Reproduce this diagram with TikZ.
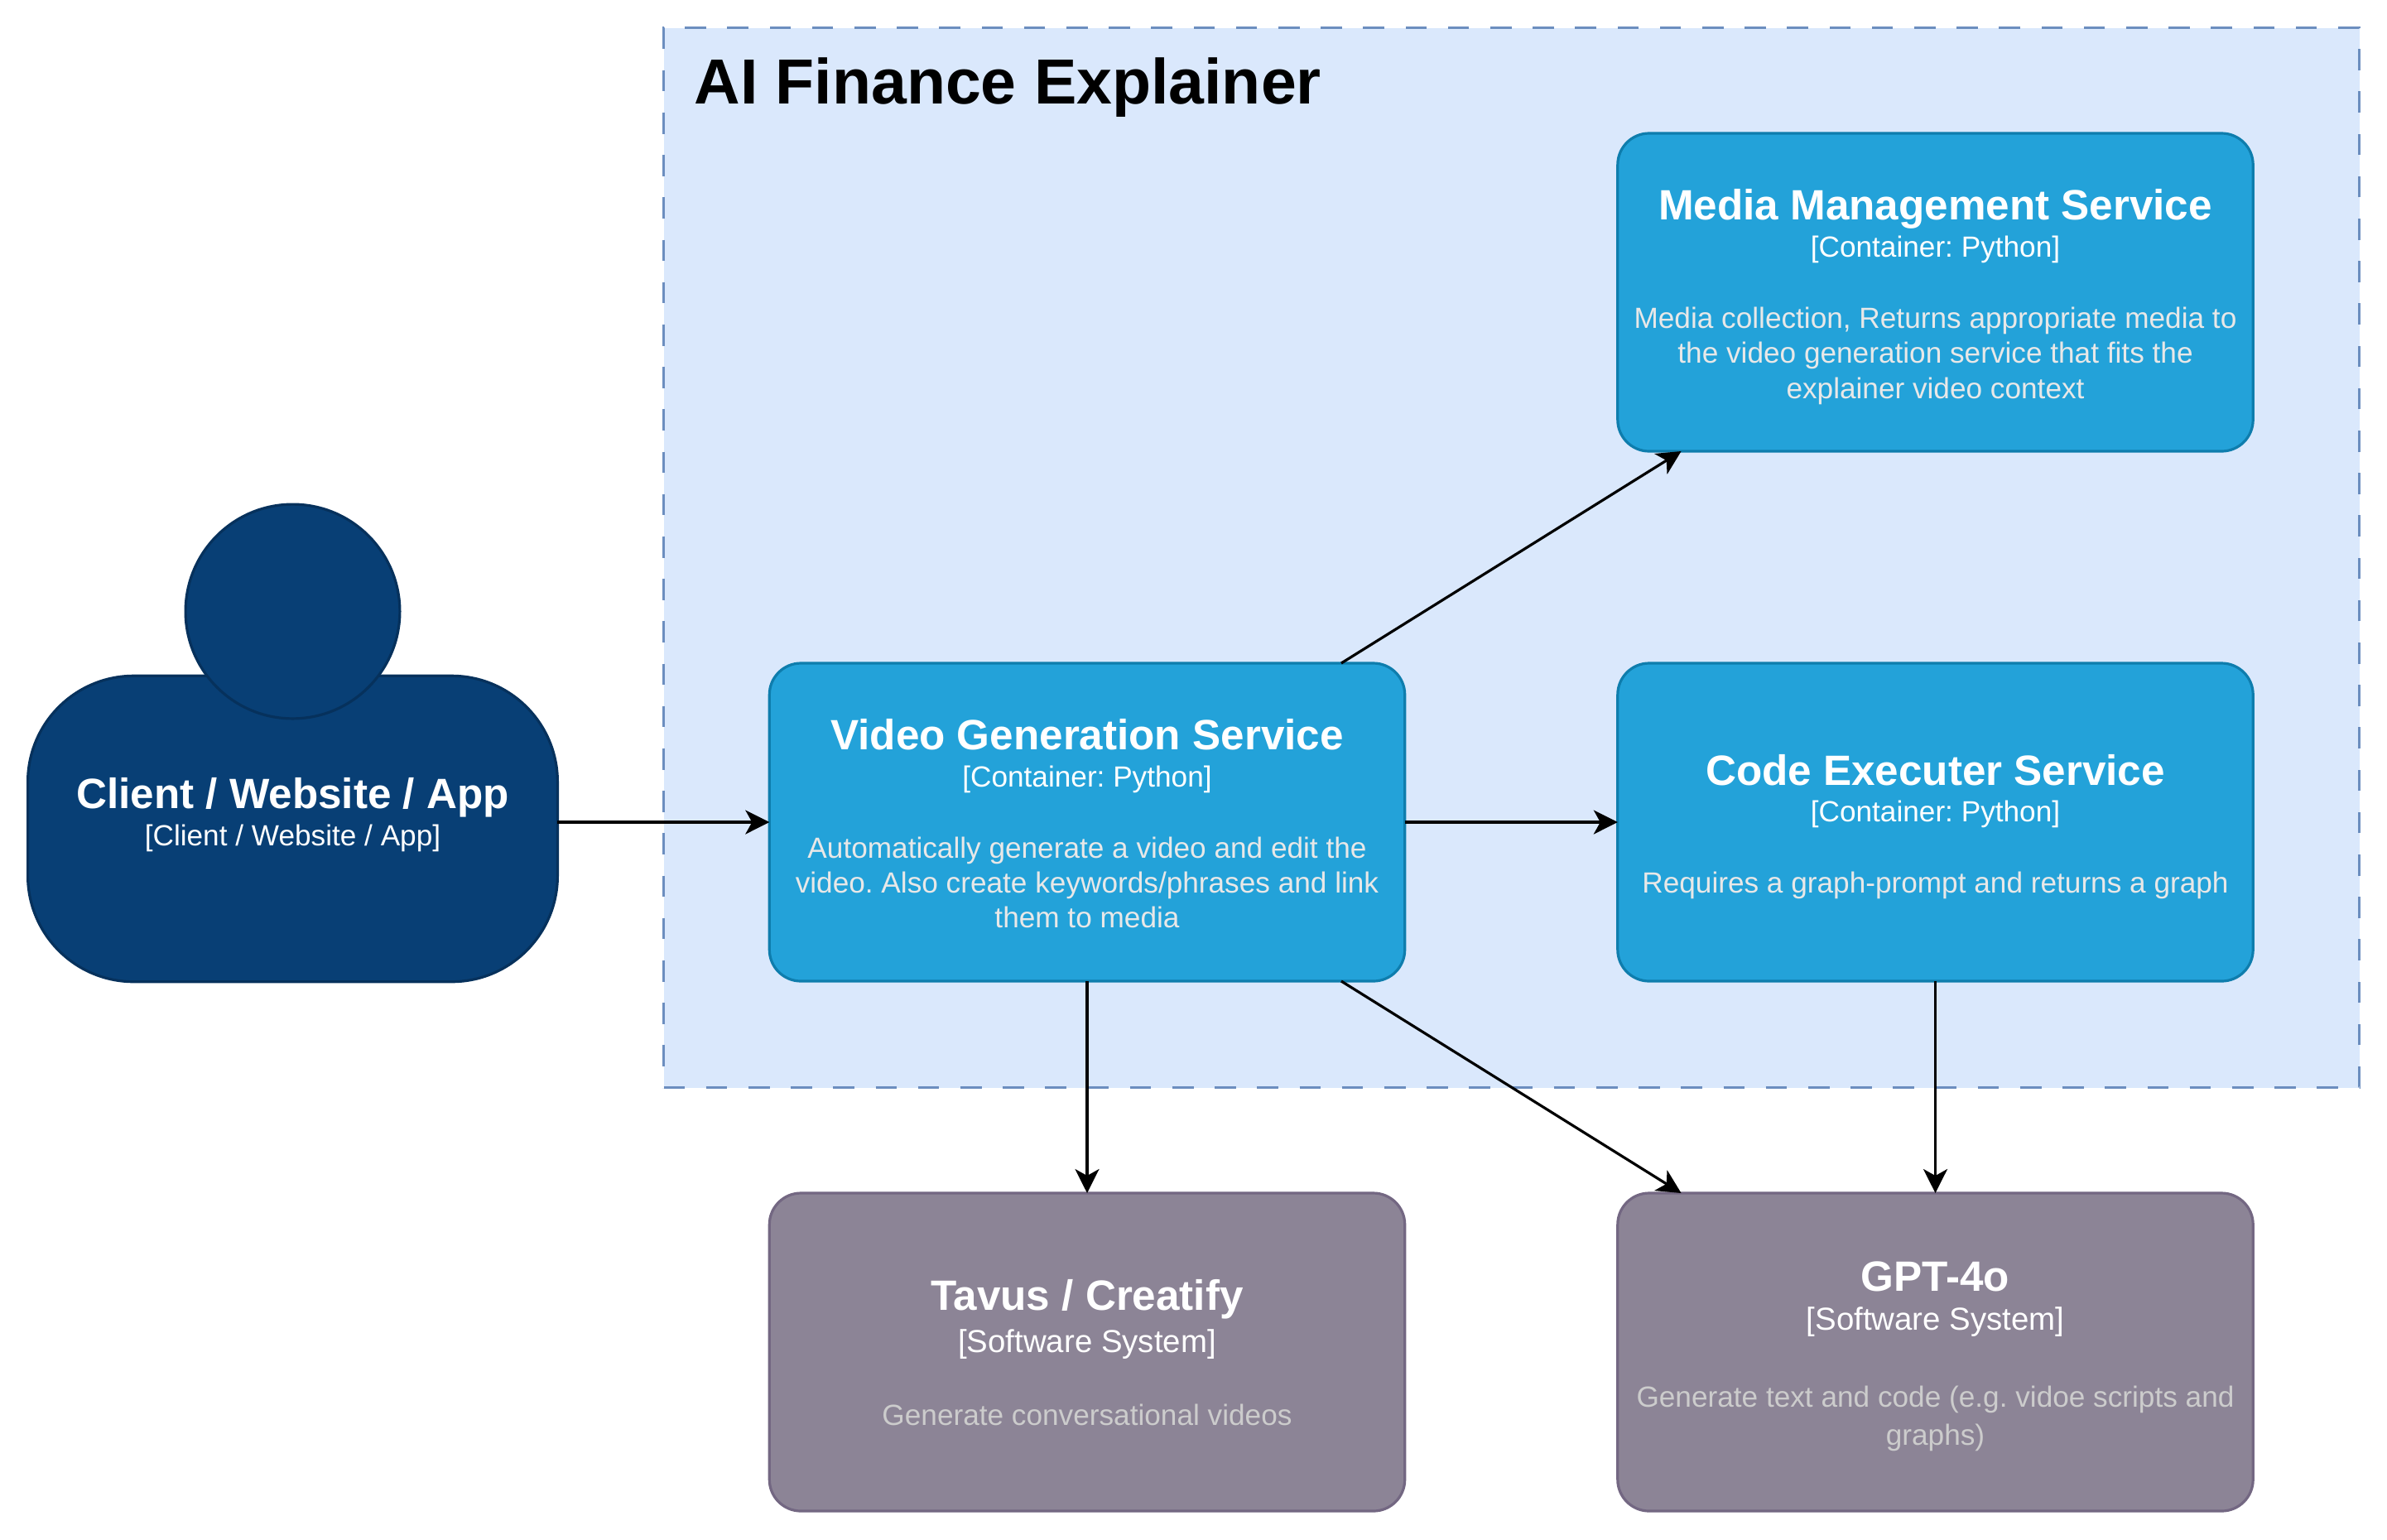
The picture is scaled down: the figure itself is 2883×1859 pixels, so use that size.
\documentclass[tikz,border=0pt]{standalone}
\usepackage{fontspec}
\setmainfont{Liberation Sans}
\usetikzlibrary{arrows.meta,calc}
\definecolor{contfill}{HTML}{23A2D9}
\definecolor{contline}{HTML}{0E7DAD}
\definecolor{sysfill}{HTML}{8C8496}
\definecolor{sysline}{HTML}{736782}
\definecolor{perfill}{HTML}{083F75}
\definecolor{perline}{HTML}{06315C}
\definecolor{grpfill}{HTML}{DAE8FC}
\definecolor{grpline}{HTML}{6C8EBF}
\definecolor{descgrey}{HTML}{CCCCCC}
\definecolor{descwhite}{HTML}{E8E8E8}
\newcommand{\cardtext}[4][5.5pt]{\begin{minipage}[c]{376pt}\frenchspacing\centering\color{white}%
\vspace*{#1}{\fontsize{25.6}{25.6}\selectfont\bfseries #2\par}%
\vspace{-2.6pt}{\fontsize{17.6}{25}\selectfont #3\par}%
\vspace{21.9pt}{\fontsize{17.6}{21.1}\selectfont\color{descwhite} #4\par}\end{minipage}}
\newcommand{\syscardtext}[6]{\begin{minipage}[c]{376pt}\frenchspacing\centering\color{white}%
\vspace*{#6}{\fontsize{25.6}{25.6}\selectfont\bfseries #1\par}%
\vspace{#4}{\fontsize{19.2}{25}\selectfont #2\par}%
\vspace{#5}{\fontsize{17.6}{23}\selectfont\color{descgrey} #3\par}\end{minipage}}
\tikzset{
  card/.style={draw,rounded corners=19pt,minimum width=383.7pt,minimum height=192pt,inner sep=0pt,outer sep=0pt,line width=1.6pt},
  container/.style={card,fill=contfill,draw=contline},
  extsys/.style={card,fill=sysfill,draw=sysline},
  link/.style={-{Stealth[length=14.5pt,width=14.5pt,inset=4pt]},line width=1.6pt,black},
}
\begin{document}
\begin{tikzpicture}[x=0.5pt,y=-0.5pt]
\useasboundingbox (0,0) rectangle (2883,1859);
\fill[white] (0,0) rectangle (2883,1859);
\node[draw=grpline,fill=grpfill,dash pattern=on 12.8pt off 12.8pt,line width=1.6pt,minimum width=1024pt,minimum height=640pt,inner sep=0pt,outer sep=0pt] (grp) at (1825.5,673.5) {};
\node[anchor=base west,inner sep=0pt,font=\fontsize{38.5}{38.5}\selectfont\bfseries] (title) at (838,125) {AI Finance Explainer};
\node[container] (media) at (2337.5,353) {\cardtext{Media Management Service}{[Container: Python]}{Media collection, Returns appropriate media to\\the video generation service that fits the\\explainer video context}};
\node[container] (vid) at (1313,993) {\cardtext[1.8pt]{Video Generation Service}{[Container: Python]}{Automatically generate a video and edit the\\video. Also create keywords/phrases and link\\them to media}};
\node[container] (code) at (2337.5,993) {\cardtext{Code Executer Service}{[Container: Python]}{Requires a graph-prompt and returns a graph}};
\node[extsys] (tav) at (1313,1633) {\syscardtext{Tavus / Creatify}{[Software System]}{Generate conversational videos}{0.5pt}{21pt}{1pt}};
\node[extsys] (gpt) at (2337.5,1633) {\syscardtext{GPT-4o}{[Software System]}{Generate text and code (e.g. vidoe scripts and\\graphs)}{-1.4pt}{23.5pt}{5.5pt}};
\node[draw=perline,fill=perfill,rounded corners=64pt,minimum width=319.9pt,minimum height=184.7pt,inner sep=0pt,outer sep=0pt,line width=1.6pt] (client) at (353.5,1001) {};
\node[circle,draw=perline,fill=perfill,minimum size=129.4pt,inner sep=0pt,outer sep=0pt,line width=1.6pt] (head) at (353.5,738.5) {};
\node[inner sep=0pt,align=center,text=white,anchor=base] (clientname) at (353.5,976) {\fontsize{25.6}{25.6}\selectfont\bfseries Client / Website / App};
\node[inner sep=0pt,text=white,anchor=base] (clientsub) at (353.5,1021.5) {\fontsize{17.6}{20}\selectfont\frenchspacing [Client / Website / App]};
\draw[link] (client.east|-vid.west) -- (vid.west);
\draw[link] (vid.east) -- (code.west);
\draw[link] (vid.south) -- (tav.north);
\draw[link] (code.south) -- (gpt.north);
\draw[link] ($(vid.north west)!0.9!(vid.north east)$) -- ($(media.south west)!0.1!(media.south east)$);
\draw[link] ($(vid.south west)!0.9!(vid.south east)$) -- ($(gpt.north west)!0.1!(gpt.north east)$);
\end{tikzpicture}
\end{document}
